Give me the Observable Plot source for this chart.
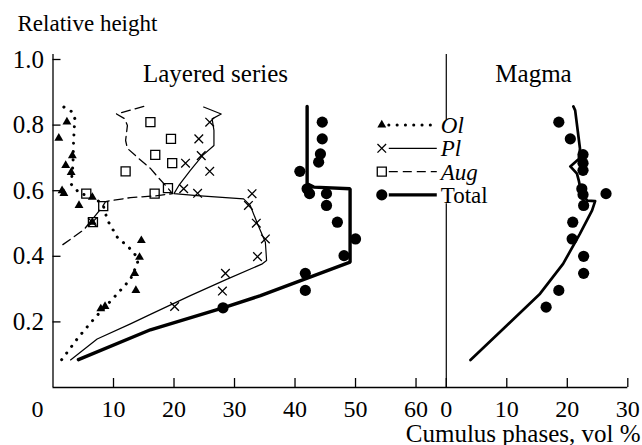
<!DOCTYPE html>
<html><head><meta charset="utf-8">
<script src="https://cdn.jsdelivr.net/npm/d3@7"></script>
<script src="https://cdn.jsdelivr.net/npm/@observablehq/plot@0.6"></script>
<style>html,body{margin:0;padding:0;background:#fff}#chart svg{display:block}
#chart svg, #chart svg text{font-family:"Liberation Serif","Tinos","Times New Roman","Nimbus Roman","DejaVu Serif",serif !important}</style>
</head><body><div id="chart"></div>
<script>
// ---- data (x = vol %, y = relative height) ----
const olPoints = [[0.96,0.76],[2.3,0.81],[3.2,0.707],[2.1,0.677],[3.0,0.656],[1.5,0.60],[1.8,0.592],[4.3,0.555],[6.5,0.58],[6.5,0.504],[14.6,0.448],[14.3,0.397],[13.5,0.348],[13.7,0.296],[7.9,0.24],[8.6,0.247]];
const olLine = [[1.8,0.855],[3.2,0.84],[3.6,0.82],[3.4,0.75],[3.3,0.68],[3.0,0.62],[4.5,0.59],[6.5,0.585],[8.3,0.555],[9.0,0.51],[10.7,0.456],[12.4,0.43],[13.8,0.40],[14.0,0.38],[12.8,0.33],[10.0,0.273],[7.0,0.214],[4.2,0.153],[1.4,0.084]];
const plPoints = [[25.9,0.809],[24.1,0.758],[24.5,0.707],[21.9,0.684],[25.9,0.659],[21.6,0.606],[23.9,0.592],[32.9,0.591],[32.3,0.555],[33.6,0.501],[35.1,0.453],[33.8,0.399],[28.5,0.348],[28.0,0.294],[20.1,0.247],[6.5,0.504]];
const plLine = [[24.9,0.855],[27.8,0.834],[26.3,0.819],[26.6,0.784],[26.6,0.738],[24.7,0.707],[22.7,0.662],[20.8,0.616],[20.0,0.591],[23.8,0.585],[31.5,0.575],[32.6,0.555],[33.8,0.499],[35.1,0.443],[35.3,0.387],[34.6,0.377],[28.5,0.328],[22.7,0.28],[16.1,0.223],[12.8,0.194],[7.3,0.148],[2.9,0.084]];
const augPoints = [[16.1,0.809],[19.5,0.758],[16.9,0.709],[12.0,0.659],[19.7,0.684],[19.0,0.608],[16.8,0.591],[5.5,0.591],[8.3,0.553],[6.6,0.504]];
const augLine = [[15.0,0.857],[10.5,0.834],[11.8,0.82],[12.3,0.799],[12.0,0.753],[12.3,0.729],[14.0,0.701],[16.1,0.668],[17.4,0.64],[18.6,0.616],[19.75,0.591],[16.8,0.584],[12.8,0.579],[8.7,0.567],[8.1,0.549],[5.1,0.481],[1.2,0.43]];
const totalPoints = [[44.5,0.809],[44.5,0.758],[44.2,0.712],[43.9,0.687],[40.8,0.659],[42.0,0.606],[42.4,0.591],[45.2,0.591],[45.2,0.555],[47.0,0.504],[50.0,0.453],[48.1,0.402],[41.7,0.348],[41.7,0.296],[28.1,0.243]];
const totalLine = [[42.0,0.857],[42.0,0.621],[43.1,0.611],[49.1,0.606],[49.1,0.382],[34.3,0.28],[28.1,0.243],[16.1,0.176],[4.2,0.085]];
const magmaPoints = [[18.6,0.809],[20.5,0.758],[22.6,0.71],[22.6,0.684],[22.6,0.662],[22.4,0.606],[22.6,0.588],[26.4,0.591],[22.7,0.555],[20.9,0.504],[20.8,0.453],[22.7,0.40],[22.7,0.348],[18.6,0.296],[16.5,0.245]];
const magmaLine = [[21.0,0.857],[21.3,0.845],[22.1,0.728],[21.9,0.697],[20.5,0.674],[21.6,0.652],[21.9,0.631],[22.3,0.594],[23.3,0.57],[24.6,0.568],[24.1,0.54],[22.1,0.469],[19.3,0.377],[15.5,0.286],[10.0,0.189],[4.0,0.084]];

const leftTicks = [0, 10, 20, 30, 40, 50, 60];
const rightTicks = [0, 10, 20, 30];
const yTicks = [0.2, 0.4, 0.6, 0.8, 1.0];
const LEFT_MAX = 65;   // extent of the "Layered series" panel
const RIGHT_MAX = 30;  // extent of the "Magma" panel
const legendItems = [
  {name: "Ol", italic: true, symbol: "triangle"},
  {name: "Pl", italic: true, symbol: "times"},
  {name: "Aug", italic: true, symbol: "square"},
  {name: "Total", italic: false, symbol: "circle"}
];
const panelTitles = ["Layered series", "Magma"];
const yLabel = "Relative height";
const xLabel = "Cumulus phases, vol %";

// ---- drawing ----
const FONT = "Liberation Serif, Tinos, Times New Roman, Nimbus Roman, DejaVu Serif, serif";
const FS = 24;
const X = d => d[0], Y = d => d[1];
const XM = d => LEFT_MAX + d[0];

const styles = {
  Ol: {stroke: "black", strokeWidth: 3, strokeDasharray: "0.1,8.2", strokeLinecap: "round"},
  Pl: {stroke: "black", strokeWidth: 1.2},
  Aug: {stroke: "black", strokeWidth: 1.3, strokeDasharray: "9,5"},
  Total: {stroke: "black", strokeWidth: 3.4}
};
const symbolR = {triangle: 3.3, times: 4, square: 5.1, circle: 5.6};

function legend(index, scales, values, dims) {
  const g = d3.create("svg:g").attr("font-family", FONT).attr("font-size", 23).attr("text-anchor", "start");
  const xDiv = scales.x(LEFT_MAX);
  legendItems.forEach((it, i) => {
    const cy = 125 + i * 23.3;
    const mx = xDiv - 64, l1 = xDiv - 57, l2 = xDiv - 9;
    const st = styles[it.name];
    g.append("line").attr("x1", l1).attr("x2", l2).attr("y1", cy).attr("y2", cy)
      .attr("stroke", "black").attr("stroke-width", st.strokeWidth)
      .attr("stroke-dasharray", st.strokeDasharray || null)
      .attr("stroke-linecap", st.strokeLinecap || null);
    const sym = {triangle: d3.symbolTriangle, times: d3.symbolTimes, square: d3.symbolSquare, circle: d3.symbolCircle}[it.symbol];
    const r = symbolR[it.symbol];
    const filled = it.symbol === "triangle" || it.symbol === "circle";
    g.append("path").attr("d", d3.symbol(sym, Math.PI * r * r)())
      .attr("transform", `translate(${mx},${cy})`)
      .attr("fill", filled ? "black" : "none")
      .attr("stroke", filled ? "none" : "black").attr("stroke-width", 1.3);
    g.append("text").attr("x", xDiv - 5).attr("y", cy).attr("dy", "0.35em")
      .attr("text-anchor", "start")
      .attr("font-style", it.italic ? "italic" : null).attr("fill", "black").text(it.name);
  });
  return g.node();
}

const fmt = d => d >= LEFT_MAX ? String(d - LEFT_MAX) : String(d);

const chart = Plot.plot({
  width: 642, height: 445,
  marginLeft: 52.5, marginRight: 14.7, marginTop: 59, marginBottom: 58,
  x: {domain: [0, LEFT_MAX + RIGHT_MAX]},
  y: {domain: [0, 1]},
  style: {fontFamily: FONT, fontSize: FS + "px", color: "black", background: "white"},
  marks: [
    // axes frame
    Plot.ruleY([0], {strokeWidth: 1.3}),
    Plot.ruleX([0], {y1: 0, y2: 1.015, strokeWidth: 1.3}),
    Plot.ruleX([LEFT_MAX], {y1: 0, y2: 0.56, strokeWidth: 1.2}),
    Plot.ruleX([LEFT_MAX], {y1: 0.815, y2: 1.015, strokeWidth: 1.2}),
    Plot.axisY({ticks: yTicks, tickSize: -8, tickPadding: 17, tickFormat: d3.format(".1f"), label: null, fontSize: 25, strokeWidth: 1.3}),
    Plot.axisX({ticks: [0], tickSize: 0, tickPadding: 12, tickFormat: fmt, label: null, fontSize: FS, dx: -15.5}),
    Plot.axisX({ticks: [...leftTicks.slice(1), ...rightTicks.map(t => t + LEFT_MAX)], tickSize: -9, tickPadding: 21, tickFormat: fmt, label: null, fontSize: FS, strokeWidth: 1.3}),
    // lines
    Plot.line(olLine, {x: X, y: Y, ...styles.Ol}),
    Plot.line(plLine, {x: X, y: Y, ...styles.Pl}),
    Plot.line(augLine, {x: X, y: Y, ...styles.Aug}),
    Plot.line(totalLine, {x: X, y: Y, ...styles.Total, strokeLinejoin: "miter"}),
    Plot.line(magmaLine, {x: XM, y: Y, stroke: "black", strokeWidth: 2.7}),
    // points
    Plot.dot(augPoints, {x: X, y: Y, symbol: "square", r: symbolR.square, fill: "none", stroke: "black", strokeWidth: 1.3}),
    Plot.dot(olPoints, {x: X, y: Y, symbol: "triangle", r: symbolR.triangle, fill: "black", stroke: "none"}),
    Plot.dot(plPoints, {x: X, y: Y, symbol: "times", r: symbolR.times, fill: "none", stroke: "black", strokeWidth: 1.3}),
    Plot.dot(totalPoints, {x: X, y: Y, symbol: "circle", r: symbolR.circle, fill: "black", stroke: "none"}),
    Plot.dot(magmaPoints, {x: XM, y: Y, symbol: "circle", r: symbolR.circle, fill: "black", stroke: "none"}),
    // texts
    Plot.text([yLabel], {text: d => d, frameAnchor: "top-left", dx: -35.5, dy: -35.5, textAnchor: "start", lineAnchor: "middle", fontSize: 23}),
    Plot.text([panelTitles[0]], {text: d => d, frameAnchor: "top-left", dx: 162.5, dy: 14, textAnchor: "middle", lineAnchor: "middle", fontSize: 25}),
    Plot.text([panelTitles[1]], {text: d => d, frameAnchor: "top-left", dx: 480.5, dy: 14, textAnchor: "middle", lineAnchor: "middle", fontSize: 25}),
    Plot.text([xLabel], {text: d => d, frameAnchor: "bottom-right", dx: 12.7, dy: 46, textAnchor: "end", lineAnchor: "middle", fontSize: 25}),
    legend
  ]
});
document.getElementById("chart").appendChild(chart);
</script>
</body></html>
